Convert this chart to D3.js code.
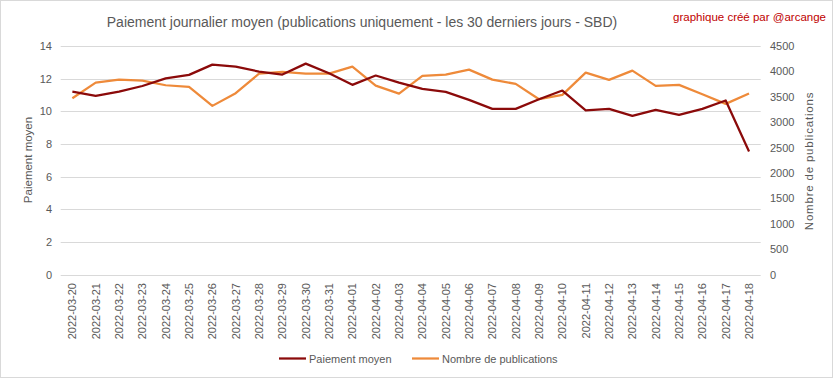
<!DOCTYPE html>
<html><head><meta charset="utf-8">
<script src="https://cdn.jsdelivr.net/npm/d3@7"></script>
<style>body{margin:0;background:#fff;}svg{display:block;font-family:"Liberation Sans",Arial,sans-serif;}</style>
</head><body>
<svg id="c" width="833" height="379"></svg>
<script>
const dates = ["2022-03-20","2022-03-21","2022-03-22","2022-03-23","2022-03-24","2022-03-25","2022-03-26","2022-03-27","2022-03-28","2022-03-29","2022-03-30","2022-03-31","2022-04-01","2022-04-02","2022-04-03","2022-04-04","2022-04-05","2022-04-06","2022-04-07","2022-04-08","2022-04-09","2022-04-10","2022-04-11","2022-04-12","2022-04-13","2022-04-14","2022-04-15","2022-04-16","2022-04-17","2022-04-18"];
const paiementMoyen = [11.21,10.94,11.21,11.55,12.02,12.23,12.86,12.74,12.43,12.25,12.92,12.33,11.62,12.19,11.76,11.37,11.19,10.70,10.15,10.15,10.74,11.27,10.05,10.15,9.72,10.09,9.78,10.15,10.66,7.54];
const nombrePublications = [3472,3779,3838,3819,3727,3694,3321,3570,3956,3989,3956,3956,4094,3720,3563,3910,3937,4035,3838,3753,3452,3537,3976,3832,4015,3714,3734,3550,3360,3563];
const leftTicks = [0,2,4,6,8,10,12,14];
const rightTicks = [0,500,1000,1500,2000,2500,3000,3500,4000,4500];
const seriesNames = ["Paiement moyen","Nombre de publications"];
const colors = ["#8B0A0A","#EE8A3A"];

const svg = d3.select("#c");
const W=833,H=379;
svg.append("rect").attr("x",0.5).attr("y",0.5).attr("width",W-1).attr("height",H-2).attr("fill","#fff").attr("stroke","#D9D9D9");

const x = d3.scaleBand().domain(dates).range([60.7,760.7]);
const yL = d3.scaleLinear().domain([0,14]).range([274.5,46]);
const yR = d3.scaleLinear().domain([0,4500]).range([274.5,46]);
const gray="#595959";

// grid
svg.append("g").selectAll("line").data(leftTicks).join("line")
  .attr("x1",60.7).attr("x2",760.7).attr("y1",d=>Math.round(yL(d))+0.5).attr("y2",d=>Math.round(yL(d))+0.5)
  .attr("stroke","#D9D9D9").attr("stroke-width",1);

// left axis
const gl = svg.append("g").attr("transform","translate(52,0)")
  .call(d3.axisLeft(yL).tickValues(leftTicks).tickFormat(d3.format("d")).tickSize(0).tickPadding(0));
gl.select(".domain").remove();
gl.selectAll("text").attr("fill",gray).attr("font-size",11).attr("font-family","Liberation Sans, Arial");

const gr = svg.append("g").attr("transform","translate(770,0)")
  .call(d3.axisRight(yR).tickValues(rightTicks).tickFormat(d3.format("d")).tickSize(0).tickPadding(0));
gr.select(".domain").remove();
gr.selectAll("text").attr("fill",gray).attr("font-size",11).attr("font-family","Liberation Sans, Arial");

// x axis
const gx = svg.append("g").attr("transform","translate(0,281)")
  .call(d3.axisBottom(x).tickSize(0).tickPadding(0));
gx.select(".domain").remove();
gx.selectAll("text").attr("fill",gray).attr("font-size",11)
  .attr("transform","rotate(-90)").attr("text-anchor","end").attr("dy","0.35em").attr("x",-2).attr("y",0);

// lines
const lineL = d3.line().x((d,i)=>x(dates[i])+x.bandwidth()/2).y(d=>yL(d));
const lineR = d3.line().x((d,i)=>x(dates[i])+x.bandwidth()/2).y(d=>yR(d));
svg.append("path").datum(nombrePublications).attr("d",lineR).attr("fill","none").attr("stroke",colors[1]).attr("stroke-width",2.25).attr("stroke-linejoin","round");
svg.append("path").datum(paiementMoyen).attr("d",lineL).attr("fill","none").attr("stroke",colors[0]).attr("stroke-width",2.25).attr("stroke-linejoin","round");

// title
svg.append("text").attr("x",362).attr("y",27).attr("text-anchor","middle").attr("fill",gray).attr("font-size",14)
  .text("Paiement journalier moyen (publications uniquement  - les 30 derniers jours - SBD)");
svg.append("text").attr("x",826).attr("y",21).attr("text-anchor","end").attr("fill","#C00000").attr("font-size",11.5)
  .text("graphique créé par @arcange");

// axis titles
svg.append("text").attr("transform","translate(32,160) rotate(-90)").attr("text-anchor","middle").attr("fill",gray).attr("font-size",11.5).text("Paiement moyen");
svg.append("text").attr("transform","translate(813,161) rotate(-90)").attr("text-anchor","middle").attr("fill",gray).attr("font-size",11.5).attr("letter-spacing",0.8).text("Nombre de publications");

// legend
const leg = [{x:279,tx:309},{x:412,tx:442}];
seriesNames.forEach((n,i)=>{
  svg.append("line").attr("x1",leg[i].x).attr("x2",leg[i].x+27).attr("y1",358.5).attr("y2",358.5).attr("stroke",colors[i]).attr("stroke-width",2.25);
  svg.append("text").attr("x",leg[i].tx).attr("y",362.5).attr("fill",gray).attr("font-size",11).text(n);
});
</script>
</body></html>
